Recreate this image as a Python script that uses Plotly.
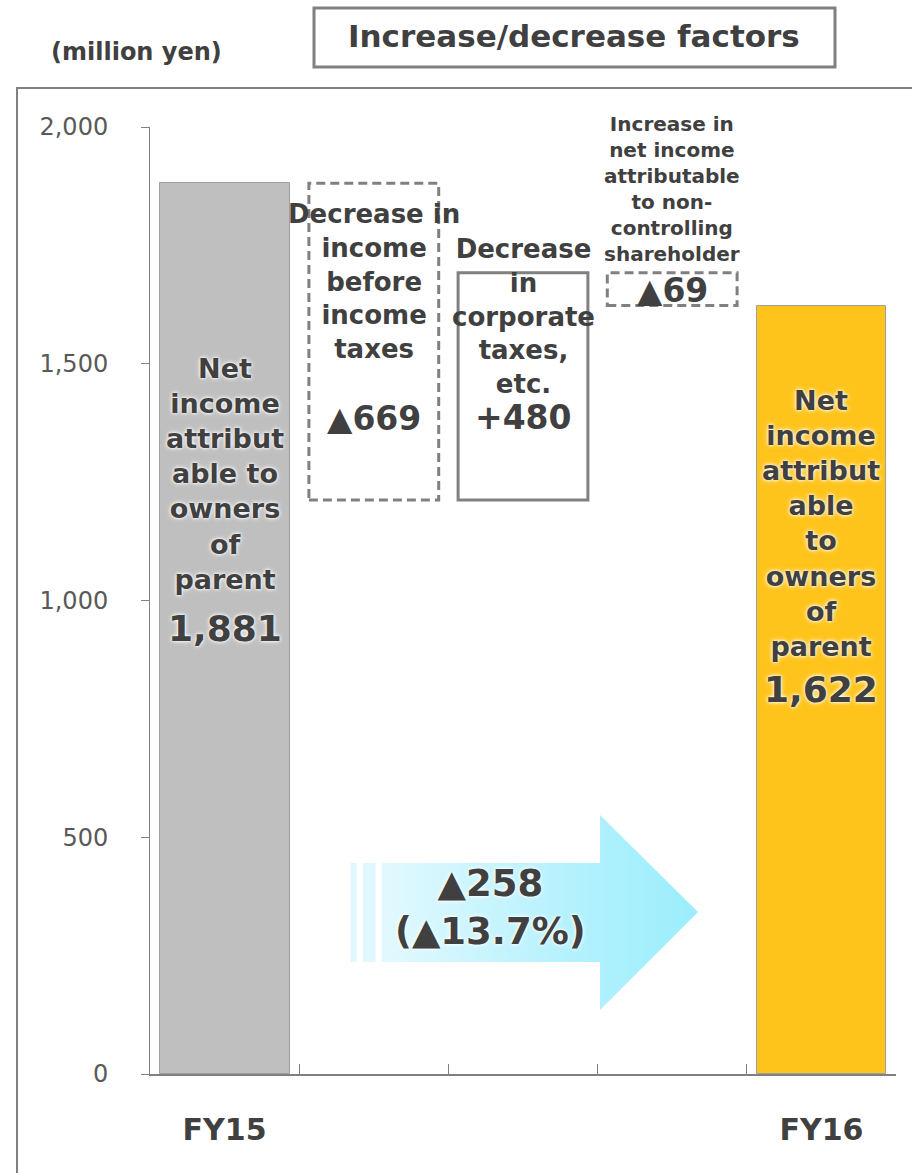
import plotly.graph_objects as go

# ---- data (million yen) ----
categories = ["FY15", "pretax", "tax", "minority", "FY16"]
tick_labels = ["FY15", "", "", "", "FY16"]
start_value = 1881
end_value = 1622
step_changes = [-669, 480, -69]
step_dashed = [True, False, True]
step_titles = [
    "Decrease in<br>income<br>before<br>income<br>taxes",
    "Decrease<br>in<br>corporate<br>taxes,<br>etc.",
    "Increase in<br>net income<br>attributable<br>to non-<br>controlling<br>shareholder",
]
bar_title_fy15 = "Net<br>income<br>attribut<br>able to<br>owners<br>of<br>parent"
bar_title_fy16 = "Net<br>income<br>attribut<br>able<br>to<br>owners<br>of<br>parent"
total_change = -258
total_change_pct = -13.7

# ---- layout geometry ----
W, H = 912, 1173
M_L, M_R, M_T, M_B = 150, 16, 127, 99
Y_MAX = 2000
PLOT_W = W - M_L - M_R
PLOT_H = H - M_T - M_B
BAR_W = 0.87

FONT = "Verdana, DejaVu Sans, sans-serif"
TXT = "#404040"
GRID = "#808080"
GLOW = "0px 0px 3px #ffffff, 0px 0px 5px #ffffff"


def py_to_y(py):
    """Pixel row -> y data value."""
    return (M_T + PLOT_H - py) * Y_MAX / PLOT_H


def px_to_x(px):
    """Pixel column -> category index position."""
    return (px - M_L) / PLOT_W * len(categories) - 0.5


def px_to_paper(px):
    return (px - M_L) / PLOT_W


def py_to_paper(py):
    return (M_T + PLOT_H - py) / PLOT_H


def signed(v):
    return ("▲" if v < 0 else "+") + f"{abs(v):,}"


fig = go.Figure()

# ---- arrow for the overall change (decorative, on a hidden linear axis) ----
stripes = [(350.7, 356.7), (363, 375.5)]
for x0, x1 in stripes:
    xs = [px_to_x(x0), px_to_x(x1), px_to_x(x1), px_to_x(x0), px_to_x(x0)]
    ys = [py_to_y(863), py_to_y(863), py_to_y(962), py_to_y(962), py_to_y(863)]
    fig.add_trace(go.Scatter(x=xs, y=ys, xaxis="x2", mode="lines", fill="toself",
                             fillcolor="#def8fe", line=dict(width=0),
                             hoverinfo="skip", showlegend=False))

arrow_px = [(381.7, 863), (600, 863), (600, 815), (698, 912), (600, 1010),
            (600, 962), (381.7, 962), (381.7, 863)]
fig.add_trace(go.Scatter(
    x=[px_to_x(p[0]) for p in arrow_px], y=[py_to_y(p[1]) for p in arrow_px],
    xaxis="x2", mode="lines", fill="toself",
    fillgradient=dict(type="horizontal",
                      colorscale=[[0, "#e2f9fe"], [0.6, "#b4f1fd"], [1, "#9beefc"]]),
    line=dict(width=0), hoverinfo="skip", showlegend=False))

# ---- start / end bars ----
fig.add_trace(go.Bar(
    x=[categories[0], categories[-1]], y=[start_value, end_value],
    width=BAR_W, marker=dict(color=["#bfbfbf", "#ffc41c"],
                             line=dict(color="#a0a0a0", width=1)),
    hoverinfo="skip", showlegend=False))

# ---- waterfall step boxes ----
shapes = []
level = start_value
step_boxes = []
for i, (chg, dashed) in enumerate(zip(step_changes, step_dashed), start=1):
    lo, hi = (level + chg, level) if chg < 0 else (level, level + chg)
    step_boxes.append((i, lo, hi))
    shapes.append(dict(type="rect", xref="x", yref="y",
                       x0=i - BAR_W / 2, x1=i + BAR_W / 2, y0=lo, y1=hi,
                       line=dict(color=GRID, width=3,
                                 dash="9px,5px" if dashed else "solid"),
                       fillcolor="rgba(0,0,0,0)", layer="above"))
    level += chg

# outer slide frame
shapes.append(dict(type="path", xref="paper", yref="paper",
                   path=(f"M {px_to_paper(17)},{py_to_paper(1200)} "
                         f"L {px_to_paper(17)},{py_to_paper(88)} "
                         f"L {px_to_paper(930)},{py_to_paper(88)}"),
                   line=dict(color=GRID, width=2), layer="below"))
# header box
shapes.append(dict(type="rect", xref="paper", yref="paper",
                   x0=px_to_paper(314), x1=px_to_paper(835),
                   y0=py_to_paper(67), y1=py_to_paper(8),
                   line=dict(color=GRID, width=3), fillcolor="white"))

# ---- annotations ----
ann = []


def label(x, y, text, size, bold=True, shadow=None, color=TXT, xref="x", yref="y"):
    f = dict(family=FONT, size=size, color=color)
    if shadow:
        f["shadow"] = shadow
    ann.append(dict(x=x, y=y, xref=xref, yref=yref, text=f"<b>{text}</b>" if bold else text,
                    showarrow=False, font=f, xanchor="center", yanchor="middle",
                    align="center"))


# start / end bar labels
label(0, py_to_y(474), bar_title_fy15, 27, shadow=GLOW)
label(0, py_to_y(628), f"{start_value:,}", 36, shadow=GLOW)
label(4, py_to_y(523), bar_title_fy16, 27, shadow=GLOW)
label(4, py_to_y(689), f"{end_value:,}", 36, shadow=GLOW)

# step labels
title_rows = [281, 316.5, 188.5]
value_rows = [418, 417, 290]
title_sizes = [26, 26, 20]
for (i, lo, hi), t, tr, vr, ts, chg in zip(step_boxes, step_titles, title_rows,
                                             value_rows, title_sizes, step_changes):
    label(i, py_to_y(tr), t, ts)
    label(i, py_to_y(vr), signed(chg), 33)

# overall change on the arrow
label(px_to_x(490), py_to_y(907),
      f"{signed(total_change)}<br>({'▲' if total_change_pct < 0 else '+'}{abs(total_change_pct):.1f}%)",
      37, shadow=GLOW)
ann[-1]["xref"] = "x2"

# header texts
label(px_to_paper(574), py_to_paper(36), "Increase/decrease factors", 31,
      xref="paper", yref="paper")
label(px_to_paper(136), py_to_paper(52), "(million yen)", 24,
      xref="paper", yref="paper")
label(px_to_paper(900), py_to_paper(1184), "16", 26, color="#7f7f7f",
      xref="paper", yref="paper")

fig.update_layout(
    width=W, height=H, autosize=False,
    margin=dict(l=M_L, r=M_R, t=M_T, b=M_B),
    paper_bgcolor="white", plot_bgcolor="white",
    shapes=shapes, annotations=ann, bargap=0,
    xaxis=dict(type="category", categoryorder="array", categoryarray=categories,
               tickmode="array", tickvals=categories, ticktext=tick_labels,
               range=[-0.5, len(categories) - 0.5], tickson="boundaries",
               ticks="inside", ticklen=10, tickcolor=GRID, tickwidth=1,
               showline=True, linecolor=GRID, linewidth=2, showgrid=False,
               ticklabelstandoff=28,
               tickfont=dict(family=FONT, size=30, color=TXT, weight="bold")),
    xaxis2=dict(overlaying="x", anchor="y", range=[-0.5, len(categories) - 0.5],
                visible=False),
    yaxis=dict(range=[0, Y_MAX], tickvals=[0, 500, 1000, 1500, 2000],
               tickformat=",", ticks="outside", ticklen=8, tickcolor=GRID,
               showline=True, linecolor=GRID, linewidth=1, showgrid=False,
               zeroline=False, ticklabelstandoff=28,
               tickfont=dict(family=FONT, size=24, color="#595959")),
)

fig.write_html("out.html")
